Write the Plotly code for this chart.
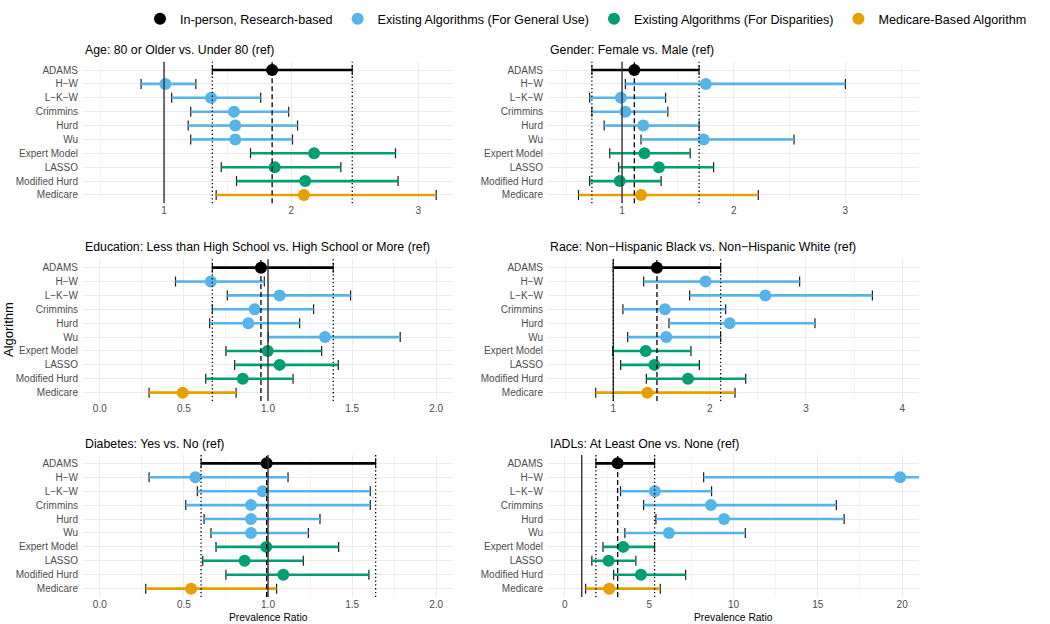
import plotly.graph_objects as go

# ---------------- data ----------------
algorithms = ["ADAMS", "H\u2212W", "L\u2212K\u2212W", "Crimmins", "Hurd", "Wu",
              "Expert Model", "LASSO", "Modified Hurd", "Medicare"]
groups = ["In-person, Research-based", "Existing Algorithms (For General Use)",
          "Existing Algorithms (For Disparities)", "Medicare-Based Algorithm"]
algo_group = [0, 1, 1, 1, 1, 1, 2, 2, 2, 3]
group_colors = ["#000000", "#56B4E9", "#009E73", "#E69F00"]

panel_titles = [
    "Age: 80 or Older vs. Under 80 (ref)",
    "Gender: Female vs. Male (ref)",
    "Education: Less than High School vs. High School or More (ref)",
    "Race: Non\u2212Hispanic Black vs. Non\u2212Hispanic White (ref)",
    "Diabetes: Yes vs. No (ref)",
    "IADLs: At Least One vs. None (ref)",
]

age_pr = [1.85, 1.01, 1.37, 1.55, 1.56, 1.56, 2.18, 1.87, 2.11, 2.10]
age_lo = [1.38, 0.82, 1.06, 1.21, 1.19, 1.21, 1.68, 1.45, 1.57, 1.41]
age_hi = [2.48, 1.25, 1.76, 1.98, 2.05, 2.01, 2.82, 2.39, 2.84, 3.14]

gender_pr = [1.11, 1.75, 0.99, 1.03, 1.19, 1.73, 1.20, 1.33, 0.98, 1.17]
gender_lo = [0.73, 1.03, 0.71, 0.73, 0.84, 1.17, 0.89, 0.97, 0.71, 0.61]
gender_hi = [1.69, 3.00, 1.39, 1.41, 1.69, 2.54, 1.61, 1.82, 1.35, 2.22]

educ_pr = [0.958, 0.66, 1.069, 0.921, 0.883, 1.339, 0.998, 1.069, 0.85, 0.493]
educ_lo = [0.669, 0.45, 0.758, 0.669, 0.653, 1.002, 0.75, 0.802, 0.63, 0.293]
educ_hi = [1.388, 0.978, 1.491, 1.271, 1.188, 1.786, 1.319, 1.418, 1.149, 0.81]

race_pr = [1.453, 1.958, 2.578, 1.536, 2.208, 1.55, 1.336, 1.426, 1.775, 1.353]
race_lo = [1.00, 1.315, 1.792, 1.10, 1.578, 1.149, 0.993, 1.076, 1.343, 0.817]
race_hi = [2.114, 2.934, 3.689, 2.166, 3.093, 2.114, 1.806, 1.893, 2.374, 2.263]

diab_pr = [0.992, 0.568, 0.968, 0.899, 0.899, 0.899, 0.99, 0.861, 1.091, 0.543]
diab_lo = [0.602, 0.293, 0.58, 0.511, 0.62, 0.661, 0.691, 0.612, 0.75, 0.273]
diab_hi = [1.64, 1.119, 1.608, 1.608, 1.309, 1.24, 1.42, 1.21, 1.60, 1.051]

iadl_pr = [3.13, 19.88, 5.34, 8.66, 9.44, 6.17, 3.46, 2.59, 4.51, 2.63]
iadl_lo = [1.84, 8.23, 3.30, 4.67, 5.40, 3.56, 2.26, 1.60, 2.89, 1.23]
iadl_hi = [5.32, 45.0, 8.70, 16.10, 16.56, 10.70, 5.32, 4.21, 7.16, 5.66]

panels = [(age_pr, age_lo, age_hi), (gender_pr, gender_lo, gender_hi),
          (educ_pr, educ_lo, educ_hi), (race_pr, race_lo, race_hi),
          (diab_pr, diab_lo, diab_hi), (iadl_pr, iadl_lo, iadl_hi)]

x_ranges = [[0.363, 3.272], [0.337, 3.659], [-0.1, 2.1], [0.322, 4.173], [-0.1, 2.1], [-1.0, 21.0]]
x_dtick = [1, 1, 0.5, 1, 0.5, 5]
x_fmt = ["", "", ".1f", "", ".1f", ""]

# ---------------- layout geometry (pixels) ----------------
W, H = 1050, 624
col_px = [(83, 453), (548, 919)]
row_px = [(61.7, 203.3), (259.3, 401.0), (455.0, 597.0)]
title_y_px = [50, 247, 444]

FONT = "Liberation Sans, Arial, Helvetica, sans-serif"
GRID = "#EBEBEB"
MINOR = "#F4F4F4"

fig = go.Figure()
layout = {}
annotations = []
shapes = []

for p, (pr, lo, hi) in enumerate(panels):
    r, c = divmod(p, 2)
    k = p + 1
    xa = "x" if k == 1 else f"x{k}"
    ya = "y" if k == 1 else f"y{k}"
    xname = "xaxis" if k == 1 else f"xaxis{k}"
    yname = "yaxis" if k == 1 else f"yaxis{k}"
    x0, x1 = col_px[c]
    t0, t1 = row_px[r]
    layout[xname] = dict(
        domain=[x0 / W, x1 / W], anchor=ya, range=x_ranges[p],
        tick0=0, dtick=x_dtick[p], tickformat=x_fmt[p],
        showgrid=True, gridcolor=GRID, gridwidth=1.1, zeroline=False,
        showline=False, ticks="",
        tickfont=dict(family=FONT, size=10, color="#4D4D4D"),
        minor=dict(dtick=x_dtick[p] / 2, tick0=0, showgrid=True, gridcolor=MINOR, gridwidth=0.6),
    )
    layout[yname] = dict(
        domain=[1 - t1 / H, 1 - t0 / H], anchor=xa, type="category",
        categoryorder="array", categoryarray=algorithms, range=[9.6, -0.6],
        showgrid=True, gridcolor=GRID, gridwidth=1.1, zeroline=False, showline=False,
        ticks="outside", ticklen=2, tickcolor="rgba(0,0,0,0)",
        tickfont=dict(family=FONT, size=10, color="#4D4D4D"),
    )
    # panel title
    annotations.append(dict(text=panel_titles[p], x=x0 / W, y=1 - title_y_px[r] / H,
                            xref="paper", yref="paper", xanchor="left", yanchor="middle",
                            showarrow=False, font=dict(family=FONT, size=12.3, color="#000000")))

    # black error bars with caps
    fig.add_trace(go.Scatter(
        x=pr, y=algorithms, mode="markers", xaxis=xa, yaxis=ya,
        marker=dict(size=1, color="rgba(0,0,0,0)"),
        error_x=dict(type="data", symmetric=False,
                     array=[h - v for h, v in zip(hi, pr)],
                     arrayminus=[v - l for v, l in zip(pr, lo)],
                     color="#1A1A1A", thickness=1.2, width=5),
        showlegend=False, hoverinfo="skip"))

    # colored interval segments
    for g in range(4):
        xs, ys = [], []
        for i, a in enumerate(algorithms):
            if algo_group[i] == g:
                xs += [lo[i], hi[i], None]
                ys += [a, a, None]
        fig.add_trace(go.Scatter(
            x=xs, y=ys, mode="lines", xaxis=xa, yaxis=ya,
            line=dict(color=group_colors[g], width=2.6),
            showlegend=False, hoverinfo="skip"))

    # points
    for g in range(4):
        idx = [i for i in range(len(algorithms)) if algo_group[i] == g]
        fig.add_trace(go.Scatter(
            x=[pr[i] for i in idx], y=[algorithms[i] for i in idx],
            mode="markers", xaxis=xa, yaxis=ya, name=groups[g],
            legendgroup=groups[g], showlegend=(p == 0),
            marker=dict(size=12, color=group_colors[g])))

    # reference lines
    shapes.append(dict(type="line", xref=xa, yref=f"{ya} domain", x0=1, x1=1, y0=0, y1=1,
                       line=dict(color="#333333", width=1.4), layer="above"))
    shapes.append(dict(type="line", xref=xa, yref=f"{ya} domain", x0=pr[0], x1=pr[0], y0=0, y1=1,
                       line=dict(color="#000000", width=1.3, dash="5px,3px"), layer="above"))
    for v in (lo[0], hi[0]):
        shapes.append(dict(type="line", xref=xa, yref=f"{ya} domain", x0=v, x1=v, y0=0, y1=1,
                           line=dict(color="#000000", width=1.3, dash="1.3px,2.5px"), layer="above"))

# axis titles
annotations.append(dict(text="Algorithm", x=8 / W, y=1 - 330 / H, xref="paper", yref="paper",
                        textangle=-90, showarrow=False, xanchor="center", yanchor="middle",
                        font=dict(family=FONT, size=13, color="#000000")))
for c in range(2):
    x0, x1 = col_px[c]
    annotations.append(dict(text="Prevalence Ratio", x=(x0 + x1) / 2 / W, y=1 - 617 / H,
                            xref="paper", yref="paper", showarrow=False,
                            xanchor="center", yanchor="middle",
                            font=dict(family=FONT, size=10.3, color="#000000")))

fig.update_layout(
    width=W, height=H, margin=dict(l=0, r=0, t=0, b=0),
    paper_bgcolor="white", plot_bgcolor="white",
    annotations=annotations, shapes=shapes,
    legend=dict(orientation="h", x=140 / W, xanchor="left", y=1 - 19 / H, yanchor="middle",
                font=dict(family=FONT, size=12.6, color="#000000"),
                bgcolor="rgba(0,0,0,0)", itemclick=False),
    **layout,
)

fig.write_html("out.html", config={"displayModeBar": False},
               post_script="document.body.style.margin='0';document.body.style.overflow='hidden';")
